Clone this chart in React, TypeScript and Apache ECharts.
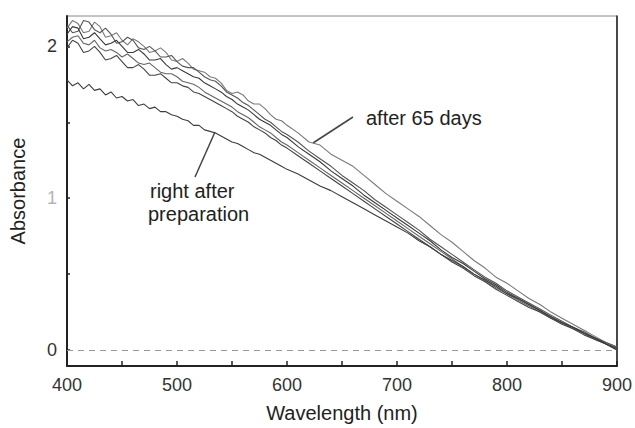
import React, { useEffect, useRef } from "react";
import * as echarts from "echarts";

const wavelengths = [
  400,405,410,415,420,425,430,435,440,445,450,455,460,465,470,475,480,485,490,495,
  500,505,510,515,520,525,530,535,540,545,550,555,560,565,570,575,580,585,590,595,600,
  610,620,630,640,650,660,670,680,690,700,710,720,730,740,750,760,770,780,790,800,
  810,820,830,840,850,860,870,880,890,900,
];

const after65 = [
  2.12,2.17,2.15,2.09,2.10,2.16,2.13,2.06,2.07,2.09,2.04,2.01,2.05,2.03,2.00,1.96,1.97,1.99,1.96,1.91,
  1.90,1.92,1.89,1.85,1.84,1.83,1.80,1.79,1.76,1.71,1.69,1.70,1.68,1.64,1.62,1.62,1.59,1.55,1.52,1.51,1.48,
  1.43,1.37,1.35,1.29,1.25,1.21,1.15,1.09,1.03,0.98,0.93,0.88,0.82,0.76,0.71,0.65,0.59,0.54,0.48,0.44,
  0.39,0.34,0.30,0.25,0.21,0.17,0.13,0.09,0.05,0.02,
];
const sampleB = [
  2.14,2.09,2.10,2.17,2.16,2.11,2.09,2.12,2.08,2.02,2.03,2.06,2.04,1.99,1.98,2.00,1.97,1.93,1.93,1.94,
  1.90,1.87,1.86,1.86,1.83,1.80,1.78,1.77,1.74,1.70,1.68,1.66,1.63,1.61,1.58,1.55,1.52,1.50,1.47,1.44,1.42,
  1.37,1.31,1.26,1.21,1.15,1.10,1.05,0.99,0.94,0.89,0.84,0.79,0.73,0.68,0.63,0.58,0.53,0.48,0.44,0.39,
  0.35,0.31,0.27,0.23,0.19,0.15,0.12,0.08,0.05,0.02,
];
const sampleC = [
  2.08,2.13,2.12,2.05,2.06,2.09,2.05,2.01,2.02,2.04,2.00,1.96,1.96,1.98,1.95,1.91,1.91,1.92,1.88,1.85,
  1.86,1.84,1.82,1.80,1.79,1.76,1.74,1.72,1.70,1.67,1.65,1.62,1.60,1.58,1.55,1.52,1.50,1.48,1.45,1.42,1.40,
  1.34,1.29,1.24,1.18,1.13,1.08,1.02,0.97,0.92,0.87,0.82,0.77,0.72,0.66,0.61,0.57,0.52,0.47,0.43,0.38,
  0.34,0.30,0.26,0.22,0.18,0.15,0.11,0.08,0.04,0.01,
];
const sampleD = [
  2.03,2.06,2.07,2.02,2.01,2.04,1.99,1.97,1.98,1.96,1.93,1.95,1.92,1.89,1.88,1.89,1.86,1.83,1.82,1.82,
  1.80,1.77,1.76,1.75,1.73,1.70,1.68,1.66,1.64,1.62,1.60,1.57,1.55,1.53,1.50,1.47,1.45,1.43,1.40,1.37,1.35,
  1.30,1.25,1.20,1.15,1.10,1.05,1.00,0.95,0.90,0.85,0.80,0.75,0.70,0.65,0.60,0.55,0.50,0.46,0.41,0.37,
  0.33,0.29,0.25,0.21,0.18,0.14,0.11,0.07,0.04,0.00,
];
const sampleE = [
  1.99,2.04,2.02,1.96,1.97,2.00,1.96,1.91,1.92,1.94,1.90,1.86,1.86,1.88,1.85,1.81,1.81,1.82,1.79,1.76,
  1.76,1.74,1.73,1.70,1.69,1.67,1.65,1.63,1.61,1.59,1.57,1.54,1.52,1.50,1.47,1.45,1.43,1.40,1.38,1.35,1.33,
  1.28,1.23,1.18,1.13,1.08,1.03,0.98,0.93,0.88,0.83,0.78,0.73,0.68,0.63,0.58,0.54,0.49,0.45,0.40,0.36,
  0.32,0.28,0.25,0.21,0.17,0.14,0.10,0.07,0.04,0.00,
];
const rightAfterPrep = [
  1.78,1.74,1.76,1.72,1.75,1.71,1.72,1.68,1.70,1.66,1.67,1.64,1.65,1.61,1.62,1.59,1.60,1.57,1.57,1.55,
  1.54,1.52,1.51,1.48,1.48,1.45,1.44,1.43,1.41,1.39,1.37,1.36,1.34,1.32,1.30,1.29,1.27,1.25,1.23,1.21,1.19,
  1.16,1.12,1.08,1.05,1.01,0.97,0.93,0.89,0.85,0.81,0.77,0.72,0.68,0.63,0.59,0.55,0.50,0.46,0.42,0.37,
  0.34,0.30,0.26,0.22,0.18,0.15,0.11,0.08,0.04,0.01,
];

const xTicks = [400,450,500,550,600,650,700,750,800,850,900];
const xLabels = [400,500,600,700,800,900];
const yTicks = [0,0.5,1,1.5,2];
const yLabels = [0,1,2];

const seriesDefs = [
  { name: "after 65 days", data: after65, color: "#7a7a7a" },
  { name: "B", data: sampleB, color: "#555" },
  { name: "C", data: sampleC, color: "#3a3a3a" },
  { name: "D", data: sampleD, color: "#666" },
  { name: "E", data: sampleE, color: "#444" },
  { name: "right after preparation", data: rightAfterPrep, color: "#3c3c3c" },
];

const FONT = "Liberation Sans";

export default function App() {
  const ref = useRef<HTMLDivElement>(null);
  useEffect(() => {
    if (!ref.current) return;
    const chart = echarts.init(ref.current, null, { renderer: "svg" });
    const series: any[] = seriesDefs.map((s, i) => ({
      name: s.name,
      type: "line",
      data: wavelengths.map((w, j) => [w, s.data[j]]),
      showSymbol: false,
      symbol: "none",
      lineStyle: { color: s.color, width: 1.1 },
      silent: true,
      z: 3,
      markLine: i === 0 ? {
        silent: true,
        symbol: "none",
        label: { show: false },
        lineStyle: { color: "#999", type: [6, 5], width: 1 },
        data: [{ yAxis: 0 }],
      } : undefined,
    }));
    chart.setOption({
      animation: false,
      backgroundColor: "#fff",
      grid: { left: 67, right: 14, top: 16, bottom: 61, show: true, borderColor: "#888", borderWidth: 1 },
      xAxis: {
        type: "value",
        min: 400,
        max: 900,
        interval: 50,
        name: "Wavelength (nm)",
        nameLocation: "middle",
        nameGap: 37,
        nameTextStyle: { fontFamily: FONT, fontSize: 20, color: "#222" },
        axisLine: { show: true, onZero: false, lineStyle: { color: "#222", width: 2 } },
        axisTick: { show: true, inside: true, length: 5, lineStyle: { color: "#222", width: 1.5 }, customValues: xTicks },
        axisLabel: { fontFamily: FONT, fontSize: 18, color: "#333", margin: 10, customValues: xLabels },
        splitLine: { show: false },
      },
      yAxis: [
        {
          type: "value",
          min: -0.105,
          max: 2.2,
          name: "Absorbance",
          nameLocation: "middle",
          nameGap: 39,
          nameTextStyle: { fontFamily: FONT, fontSize: 20, color: "#222" },
          axisLine: { show: true, onZero: false, lineStyle: { color: "#222", width: 2 } },
          axisTick: { show: true, inside: true, length: 3, lineStyle: { color: "#222", width: 1.5 }, customValues: yTicks },
          axisLabel: {
            fontFamily: FONT, fontSize: 18, color: "#333", margin: 10, customValues: yLabels,
            formatter: (v: number) => (v === 1 ? "{f|1}" : String(v)),
            rich: { f: { fontFamily: FONT, fontSize: 18, color: "#b5b5b5" } },
          },
          splitLine: { show: false },
        },
        {
          type: "value",
          position: "right",
          min: -0.105,
          max: 2.2,
          axisLine: { show: true, onZero: false, lineStyle: { color: "#222", width: 1.5 } },
          axisTick: { show: false },
          axisLabel: { show: false },
          splitLine: { show: false },
        },
      ],
      series,
      graphic: [
        { type: "text", left: 366, top: 108, style: { text: "after 65 days", fontFamily: FONT, fontSize: 20, fill: "#222" } },
        { type: "text", left: 150, top: 181, style: { text: "right after", fontFamily: FONT, fontSize: 20, fill: "#222" } },
        { type: "text", left: 148, top: 204, style: { text: "preparation", fontFamily: FONT, fontSize: 20, fill: "#222" } },
        { type: "line", shape: { x1: 353, y1: 117, x2: 313, y2: 143 }, style: { stroke: "#444", lineWidth: 1.5 } },
        { type: "line", shape: { x1: 195, y1: 177, x2: 215, y2: 132 }, style: { stroke: "#444", lineWidth: 1.5 } },
      ],
    });
    return () => chart.dispose();
  }, []);
  return <div ref={ref} style={{ width: 635, height: 428, position: "absolute", left: 0, top: 0 }} />;
}
